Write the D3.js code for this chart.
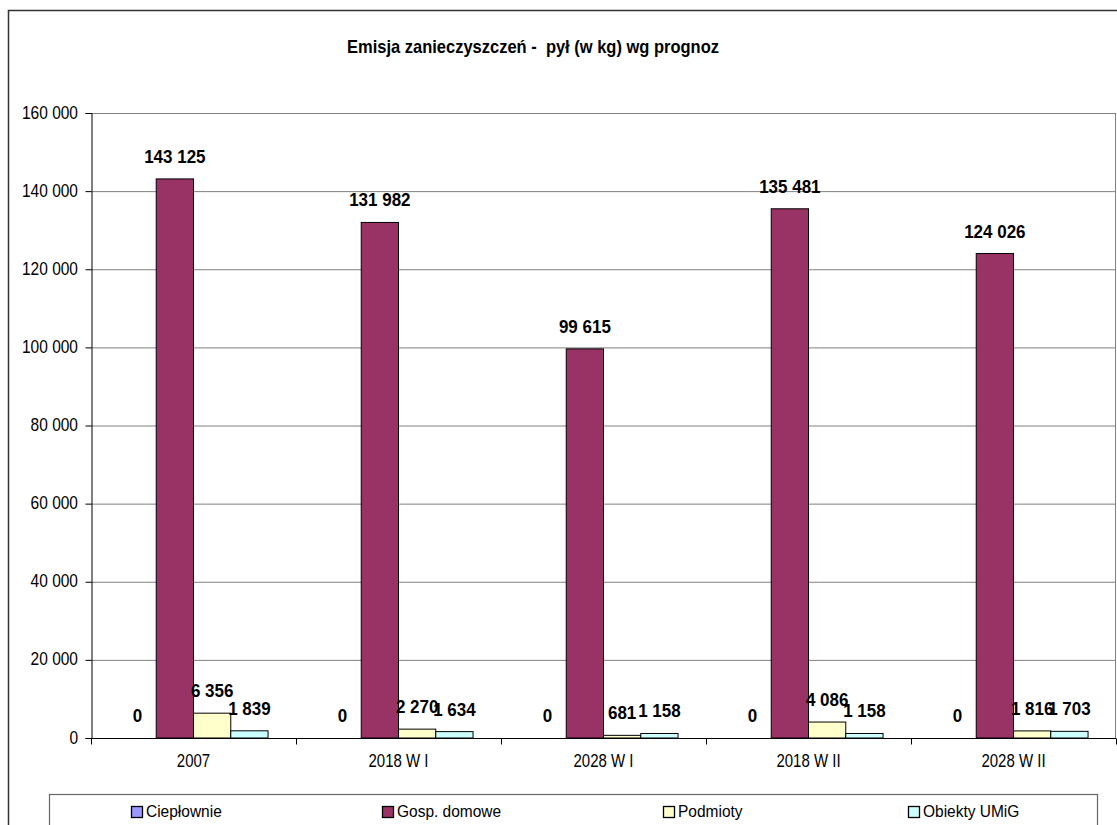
<!DOCTYPE html>
<html>
<head>
<meta charset="utf-8">
<script src="https://cdn.jsdelivr.net/npm/d3@7"></script>
<style>
  html, body { margin: 0; padding: 0; background: #fff; }
  svg { display: block; font-family: "Liberation Sans", Arial, sans-serif; }
  text { white-space: pre; }
</style>
</head>
<body>
<svg id="chart" width="1117" height="825"></svg>
<script>
// Emission forecast data (kg of dust)
const categories = ["2007", "2018 W I", "2028 W I", "2018 W II", "2028 W II"];
const seriesNames = ["Ciepłownie", "Gosp. domowe", "Podmioty", "Obiekty UMiG"];
const cieplownie = [0, 0, 0, 0, 0];
const gospDomowe = [143125, 131982, 99615, 135481, 124026];
const podmioty = [6356, 2270, 681, 4086, 1816];
const obiektyUMiG = [1839, 1634, 1158, 1158, 1703];
const yTicks = [0, 20000, 40000, 60000, 80000, 100000, 120000, 140000, 160000];
const titleText = "Emisja zanieczyszczeń -  pył (w kg) wg prognoz";

const seriesValues = [cieplownie, gospDomowe, podmioty, obiektyUMiG];
const colors = ["#9999FF", "#993366", "#FFFFCC", "#CCFFFF"];

const svg = d3.select("#chart");
const plot = { left: 91, right: 1116, top: 113, bottom: 738 };

const fmt = d3.formatLocale({ decimal: ",", thousands: " ", grouping: [3], currency: ["", ""] }).format(",d");

// Outer chart frame
svg.append("rect")
  .attr("x", 8.5).attr("y", 10.5).attr("width", 1200).attr("height", 900)
  .attr("fill", "#fff").attr("stroke", "#333").attr("stroke-width", 1.5);

const x = d3.scaleBand().domain(categories).range([plot.left, plot.right]).paddingInner(0).paddingOuter(0);
// four bars per category, with a gap of 1.5 bar widths between groups
const xInner = d3.scaleBand().domain(d3.range(seriesNames.length))
  .range([0, x.bandwidth()]).paddingInner(0).paddingOuter(0.75);
const y = d3.scaleLinear().domain([0, 160000]).range([plot.bottom, plot.top]);

// Text helper with a slight vertical stretch
function label(g, tx, ty, text, opts) {
  const t = g.append("text")
    .attr("transform", `translate(${tx},${ty}) scale(1,${opts.sy || 1})`)
    .attr("text-anchor", opts.anchor || "middle")
    .attr("font-size", opts.size)
    .attr("font-weight", opts.weight || "normal")
    .attr("fill", "#000")
    .text(text);
  return t;
}

// Gridlines
svg.append("g").selectAll("line").data(yTicks.filter(d => d > 0)).join("line")
  .attr("x1", plot.left).attr("x2", plot.right)
  .attr("y1", d => y(d) + 0.5).attr("y2", d => y(d) + 0.5)
  .attr("stroke", "#808080").attr("stroke-width", 1);

// Right plot edge
svg.append("line")
  .attr("x1", plot.right - 0.5).attr("x2", plot.right - 0.5)
  .attr("y1", plot.top).attr("y2", plot.bottom)
  .attr("stroke", "#808080");

// Bars
const groups = svg.append("g").selectAll("g").data(categories).join("g")
  .attr("transform", c => `translate(${x(c)},0)`);

groups.each(function (c, ci) {
  const g = d3.select(this);
  seriesValues.forEach((vals, si) => {
    const v = vals[ci];
    if (v > 0) {
      g.append("rect")
        .attr("x", xInner(si)).attr("y", y(v))
        .attr("width", xInner.bandwidth()).attr("height", y(0) - y(v))
        .attr("fill", colors[si]).attr("stroke", "#000").attr("stroke-width", 1);
    }
  });
});

// Value labels
groups.each(function (c, ci) {
  const g = d3.select(this);
  seriesValues.forEach((vals, si) => {
    const v = vals[ci];
    const cx = xInner(si) + xInner.bandwidth() / 2;
    label(g, cx, y(v) - 16, fmt(v), { size: 17, weight: "bold", sy: 1.1 });
  });
});

// Y axis
const yAxis = d3.axisLeft(y).tickValues(yTicks).tickSize(6).tickFormat(fmt);
const yg = svg.append("g").attr("transform", `translate(${plot.left + 0.5},0)`).call(yAxis);
yg.select(".domain").attr("stroke", "#000");
yg.selectAll(".tick line").attr("stroke", "#000");
yg.selectAll(".tick text").remove();
yTicks.forEach(t => {
  label(svg, 78, y(t) + 5.5, fmt(t), { size: 15.5, anchor: "end", sy: 1.2 });
});

// X axis
const xg = svg.append("g").attr("transform", `translate(0,${plot.bottom + 0.5})`);
xg.append("line").attr("x1", plot.left).attr("x2", plot.right).attr("stroke", "#000");
const edges = categories.map(c => x(c)).concat([plot.right]);
xg.selectAll("line.tk").data(edges).join("line").attr("class", "tk")
  .attr("x1", d => Math.round(d) + 0.5).attr("x2", d => Math.round(d) + 0.5)
  .attr("y1", 0).attr("y2", 6).attr("stroke", "#000");
categories.forEach(c => {
  label(svg, x(c) + x.bandwidth() / 2, 767, c, { size: 15, sy: 1.2 });
});

// Title
label(svg, 533, 53, titleText, { size: 16.5, weight: "bold", sy: 1.15 });

// Legend
const legendX = [131, 382, 663, 908];
svg.append("rect")
  .attr("x", 49.5).attr("y", 794.5).attr("width", 1048).attr("height", 60)
  .attr("fill", "#fff").attr("stroke", "#666").attr("stroke-width", 1.2);
seriesNames.forEach((name, i) => {
  svg.append("rect")
    .attr("x", legendX[i] + 0.5).attr("y", 806.5).attr("width", 11).attr("height", 11)
    .attr("fill", colors[i]).attr("stroke", "#000").attr("stroke-width", 1.3);
  label(svg, legendX[i] + 15, 817, name, { size: 15.5, anchor: "start", sy: 1.05 });
});
</script>
</body>
</html>
